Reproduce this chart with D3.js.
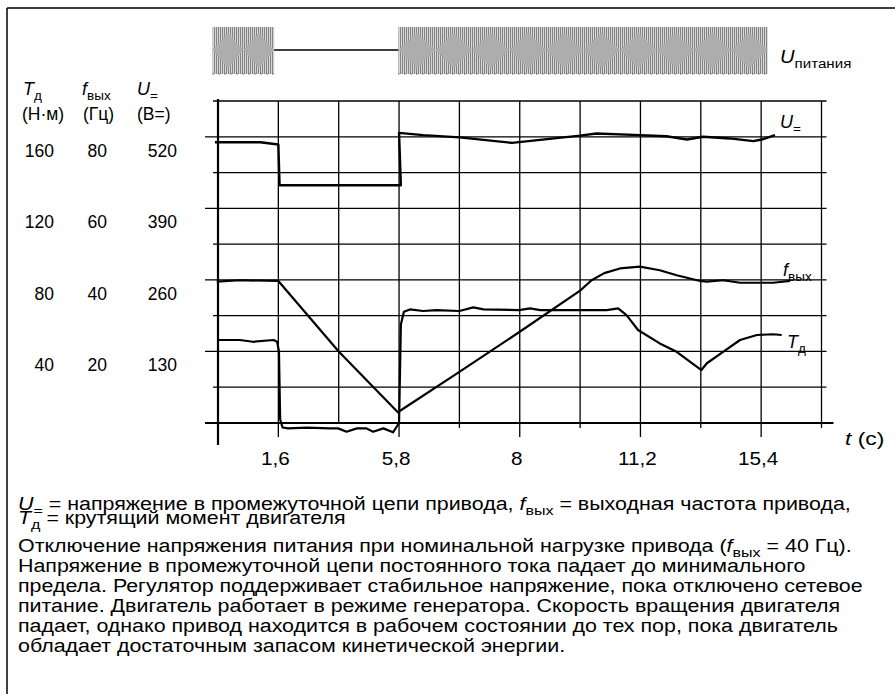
<!DOCTYPE html>
<html>
<head>
<meta charset="utf-8">
<script src="https://cdn.jsdelivr.net/npm/d3@7"></script>
<style>
  body { margin: 0; background: #fff; }
  svg { display: block; font-family: "Liberation Sans", Arial, sans-serif; }
</style>
</head>
<body>
<div id="chart"></div>
<script>
// time runs in grid divisions, the printed tick labels are not evenly spaced values
var timeTickDivs = [1, 3, 5, 7, 9];
var timeTickLabels = ["1,6", "5,8", "8", "11,2", "15,4"];
var minorTickDivs = [4, 6, 8, 10];

// three value columns on the left share the same rows
var torqueTicks = [160, 120, 80, 40];
var freqTicks = [80, 60, 40, 20];
var voltTicks = [520, 390, 260, 130];

// supply voltage: on / off stretches
var supplyFrom = [-0.09, 0.93, 2.99];
var supplyTo = [0.93, 2.99, 9.11];
var supplyOn = [true, false, true];

// DC link voltage (V)
var udcTime = [-0.05, 0.70, 1.0, 1.02, 3.03, 3.0, 3.4, 4.0, 4.87, 6.0, 6.27, 6.99, 7.43, 7.77, 8.04, 8.48, 8.87, 9.01, 9.23];
var udcValue = [510, 510, 506, 432, 432, 527, 523, 519, 509, 522, 526, 523, 521, 515, 520, 517, 512, 515, 523];

// output frequency (Hz)
var freqTime = [-0.02, 0.36, 1.0, 2.0, 2.98, 4.0, 5.0, 6.0, 6.19, 6.4, 6.66, 6.99, 7.32, 7.60, 7.99, 8.10, 8.37, 8.65, 9.2, 9.48];
var freqValue = [39.5, 39.9, 39.7, 20, 3.0, 14.3, 25.5, 37, 39.9, 41.9, 43.2, 43.7, 42.7, 41.3, 39.7, 39.5, 39.9, 39.2, 39.2, 39.7];

// motor torque (N·m)
var torqueTime = [0, 0.36, 0.58, 0.92, 0.98, 1.01, 1.03, 1.07, 1.16, 1.47, 1.86, 1.99, 2.13, 2.30, 2.46, 2.57, 2.74, 2.90, 2.96, 3.0, 3.03, 3.08, 3.18, 3.40, 3.62, 4.0, 4.23, 4.40, 4.99, 5.17, 5.34, 5.67, 6.0, 6.44, 6.63, 6.77, 6.96, 7.32, 7.60, 8.01, 8.10, 8.37, 8.65, 8.93, 9.20, 9.34];
var torqueValue = [46.4, 46.4, 45.4, 46.4, 45.4, 40, 2, -2.5, -3.0, -2.6, -3.0, -3.0, -4.9, -3.0, -3.0, -4.9, -3.0, -5.2, -2.1, 0, 55, 62.2, 63.5, 62.6, 63.1, 62.6, 64.6, 63.5, 63.1, 64.1, 63.1, 63.1, 63.1, 63.1, 64.1, 60.3, 52.0, 44.5, 39.8, 29.6, 33.4, 39.8, 46.4, 49.2, 49.6, 49.2];

var captionLines = [
  [{t: "U", it: 1}, {t: "=", sub: 1}, {t: " = напряжение в промежуточной цепи привода, "}, {t: "f", it: 1}, {t: "вых", sub: 1}, {t: " = выходная частота привода,"}],
  [{t: "T", it: 1}, {t: "д", sub: 1}, {t: " = крутящий момент двигателя"}],
  [{t: "Отключение напряжения питания при номинальной нагрузке привода ("}, {t: "f", it: 1}, {t: "вых", sub: 1}, {t: " = 40 Гц)."}],
  [{t: "Напряжение в промежуточной цепи постоянного тока падает до минимального"}],
  [{t: "предела. Регулятор поддерживает стабильное напряжение, пока отключено сетевое"}],
  [{t: "питание. Двигатель работает в режиме генератора. Скорость вращения двигателя"}],
  [{t: "падает, однако привод находится в рабочем состоянии до тех пор, пока двигатель"}],
  [{t: "обладает достаточным запасом кинетической энергии."}]
];
var captionY = [510, 524, 552, 572, 592, 612, 632, 652];

(function() {
  var width = 895,
    height = 694;

  var svg = d3.select("#chart")
    .append("svg")
    .attr("width", width)
    .attr("height", height);

  var defs = svg.append("defs");

  // grid area
  var left = 218, right = 821.5, top = 101, bottom = 423;

  var x = d3.scaleLinear().domain([0, 10]).range([left, right]);
  // all three quantities share the grid: 10 Hz = 20 N·m = 65 V per row
  var yF = d3.scaleLinear().domain([0, 90]).range([bottom, top]);
  var yT = d3.scaleLinear().domain([0, 180]).range([bottom, top]);
  var yU = d3.scaleLinear().domain([0, 585]).range([bottom, top]);

  // frame (only top and left edges show)
  svg.append("line").attr("x1", 7).attr("y1", 8).attr("x2", width).attr("y2", 8)
    .attr("stroke", "#000").attr("stroke-width", 1.5);
  svg.append("line").attr("x1", 7).attr("y1", 8).attr("x2", 7).attr("y2", height)
    .attr("stroke", "#000").attr("stroke-width", 1.5);

  // text with italic letters and subscripts; sx widens the glyphs like the print
  function richText(sel, tx, ty, parts, size, sx) {
    var t = sel.append("text")
      .attr("transform", "translate(" + tx + "," + ty + ") scale(" + (sx || 1) + ",1)")
      .attr("font-size", size);
    var down = false;
    parts.forEach(function(p) {
      var s = t.append("tspan").text(p.t);
      if (p.sub) {
        s.attr("font-size", size * 0.75);
        if (!down) s.attr("dy", size * 0.25);
        down = true;
      } else if (down) {
        s.attr("dy", -size * 0.25);
        down = false;
      }
      if (p.it) s.attr("font-style", "italic");
    });
    return t;
  }

  // ---- supply voltage strip ----
  var pat = defs.append("pattern")
    .attr("id", "ac")
    .attr("patternUnits", "userSpaceOnUse")
    .attr("width", 2)
    .attr("height", 10);
  pat.append("rect").attr("width", 2).attr("height", 10).attr("fill", "#d6d6d6");
  pat.append("rect").attr("width", 1).attr("height", 10).attr("fill", "#848484");

  var supply = supplyFrom.map(function(d, i) {
    return { from: d, to: supplyTo[i], on: supplyOn[i] };
  });
  var sTop = 27, sBot = 74, sMid = 50;

  supply.forEach(function(s) {
    var x0 = x(s.from), x1 = x(s.to);
    if (!s.on) {
      svg.append("line").attr("x1", x0).attr("x2", x1).attr("y1", sMid).attr("y2", sMid)
        .attr("stroke", "#000").attr("stroke-width", 1.3);
      return;
    }
    svg.append("rect").attr("x", x0).attr("y", sTop)
      .attr("width", x1 - x0).attr("height", sBot - sTop)
      .attr("fill", "url(#ac)");
    // moire lobes of the ac waveform
    var n = Math.max(1, Math.round((x1 - x0) / 36)), p = (x1 - x0) / n;
    d3.range(n).forEach(function(i) {
      var cx = x0 + p * (i + 0.5);
      svg.append("path")
        .attr("d", "M" + (cx - p / 2) + "," + sMid + "L" + cx + "," + (sTop + 6) + "L" + (cx + p / 2) + "," + sMid + "L" + cx + "," + (sBot - 6) + "Z")
        .attr("fill", "#adadad");
    });
    svg.append("line").attr("x1", x0).attr("x2", x1).attr("y1", sBot).attr("y2", sBot)
      .attr("stroke", "#222").attr("stroke-width", 1).attr("stroke-dasharray", "1,5");
  });

  richText(svg, 780, 63, [{t: "U", it: 1}, {t: "питания", sub: 1}], 18, 1.12);

  // ---- grid ----
  var grid = svg.append("g").attr("stroke", "#000").attr("stroke-width", 1.3);

  grid.selectAll(".vgrid")
    .data(d3.range(1, 11))
    .enter().append("line")
    .attr("class", "vgrid")
    .attr("x1", function(d) { return x(d); })
    .attr("x2", function(d) { return x(d); })
    .attr("y1", top)
    .attr("y2", function(d) {
      if (timeTickDivs.indexOf(d) >= 0) return bottom + 14;
      if (minorTickDivs.indexOf(d) >= 0) return bottom + 5;
      return bottom;
    });

  grid.selectAll(".hgrid")
    .data(d3.range(10, 100, 10))
    .enter().append("line")
    .attr("class", "hgrid")
    .attr("x1", function(d) { return freqTicks.indexOf(d) >= 0 ? left - 13 : left - 5; })
    .attr("x2", right + 5)
    .attr("y1", function(d) { return yF(d); })
    .attr("y2", function(d) { return yF(d); });

  // axes
  svg.append("line").attr("x1", left).attr("x2", left).attr("y1", top - 2).attr("y2", bottom + 22)
    .attr("stroke", "#000").attr("stroke-width", 2.2);
  svg.append("line").attr("x1", left - 13).attr("x2", right + 12).attr("y1", yF(0)).attr("y2", yF(0))
    .attr("stroke", "#000").attr("stroke-width", 2.2);

  // time tick labels
  svg.selectAll(".tlabel")
    .data(timeTickDivs)
    .enter().append("text")
    .attr("class", "tlabel")
    .attr("transform", function(d) { return "translate(" + (x(d) - 3) + "," + (bottom + 42) + ") scale(1.15,1)"; })
    .attr("text-anchor", "middle")
    .attr("font-size", 18)
    .text(function(d, i) { return timeTickLabels[i]; });

  richText(svg, 845, 445, [{t: "t", it: 1}, {t: " (c)"}], 19, 1.2);

  // value columns
  function column(ticks, scale, xr) {
    svg.selectAll(null)
      .data(ticks)
      .enter().append("text")
      .attr("x", xr)
      .attr("y", function(d) { return scale(d) + 20; })
      .attr("text-anchor", "end")
      .attr("font-size", 17.5)
      .text(function(d) { return d; });
  }
  column(torqueTicks, yT, 54);
  column(freqTicks, yF, 107);
  column(voltTicks, yU, 177);

  richText(svg, 23, 95, [{t: "T", it: 1}, {t: "д", sub: 1}], 18);
  richText(svg, 82, 95, [{t: "f", it: 1}, {t: "вых", sub: 1}], 18);
  richText(svg, 137, 95, [{t: "U", it: 1}, {t: "=", sub: 1}], 18);
  svg.append("text").attr("x", 22).attr("y", 120).attr("font-size", 17.5).text("(Н·м)");
  svg.append("text").attr("x", 83).attr("y", 120).attr("font-size", 17.5).text("(Гц)");
  svg.append("text").attr("x", 137).attr("y", 120).attr("font-size", 17.5).text("(В=)");

  // ---- curves ----
  function series(times, values, scale) {
    return d3.line()
      .x(function(d, i) { return x(times[i]); })
      .y(function(d, i) { return scale(values[i]); })(values);
  }

  svg.append("path")
    .attr("d", series(udcTime, udcValue, yU))
    .attr("fill", "none").attr("stroke", "#000").attr("stroke-width", 2.4)
    .attr("stroke-linejoin", "round");
  svg.append("path")
    .attr("d", series(freqTime, freqValue, yF))
    .attr("fill", "none").attr("stroke", "#000").attr("stroke-width", 2.2)
    .attr("stroke-linejoin", "round");
  svg.append("path")
    .attr("d", series(torqueTime, torqueValue, yT))
    .attr("fill", "none").attr("stroke", "#000").attr("stroke-width", 2.2)
    .attr("stroke-linejoin", "round");

  // curve names
  richText(svg, 780, 128, [{t: "U", it: 1}, {t: "=", sub: 1}], 18);
  richText(svg, 783, 276, [{t: "f", it: 1}, {t: "вых", sub: 1}], 18);
  richText(svg, 787, 348, [{t: "T", it: 1}, {t: "д", sub: 1}], 18);

  // ---- caption ----
  captionLines.forEach(function(parts, i) {
    richText(svg, 18, captionY[i], parts, 18, 1.19);
  });
})();
</script>
</body>
</html>
